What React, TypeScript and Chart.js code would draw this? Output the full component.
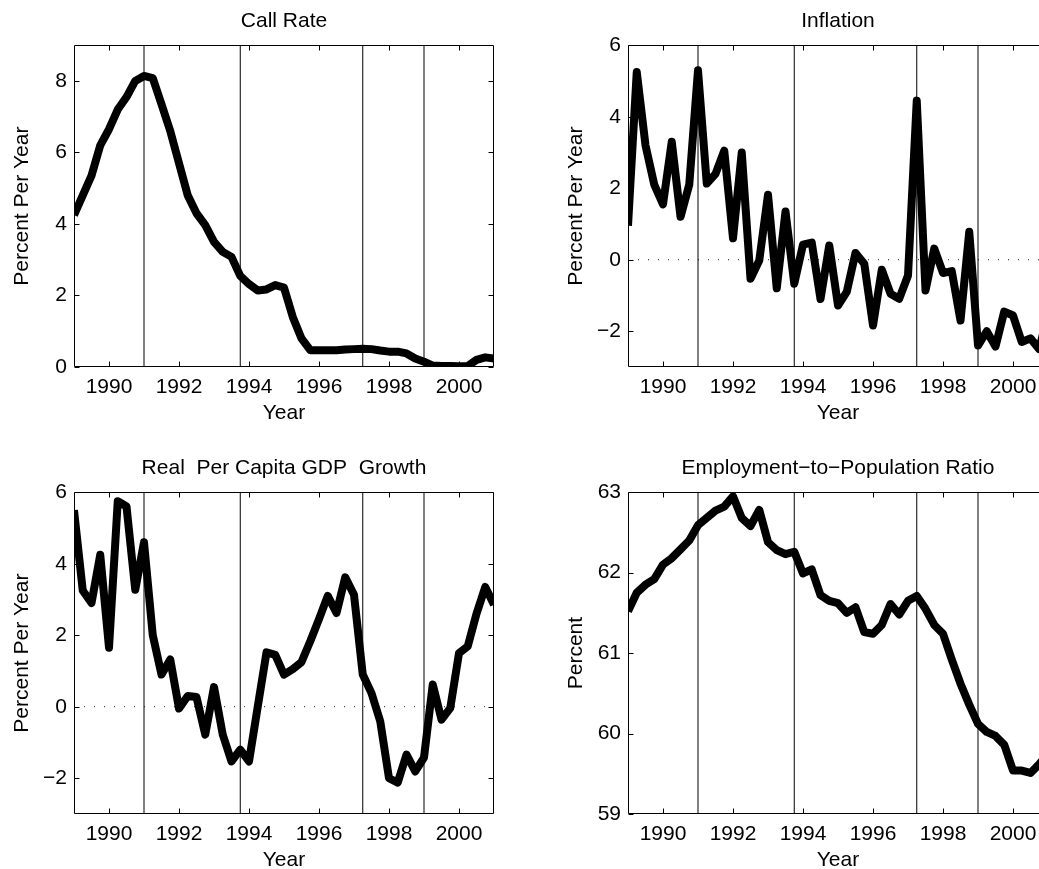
import React, { useEffect, useRef } from "react";
import { Chart, registerables } from "chart.js";

Chart.register(...registerables);

// ---- data ----
const QUARTERS = [
  1989, 1989.25, 1989.5, 1989.75, 1990, 1990.25, 1990.5, 1990.75,
  1991, 1991.25, 1991.5, 1991.75, 1992, 1992.25, 1992.5, 1992.75,
  1993, 1993.25, 1993.5, 1993.75, 1994, 1994.25, 1994.5, 1994.75,
  1995, 1995.25, 1995.5, 1995.75, 1996, 1996.25, 1996.5, 1996.75,
  1997, 1997.25, 1997.5, 1997.75, 1998, 1998.25, 1998.5, 1998.75,
  1999, 1999.25, 1999.5, 1999.75, 2000, 2000.25, 2000.5, 2000.75,
  2001,
];

const CALL_RATE = [
  4.25, 4.8, 5.35, 6.2, 6.65, 7.2, 7.55, 8.0,
  8.14, 8.08, 7.35, 6.6, 5.7, 4.8, 4.3, 3.97,
  3.5, 3.22, 3.08, 2.55, 2.32, 2.14, 2.17, 2.29,
  2.22, 1.4, 0.8, 0.47, 0.47, 0.47, 0.47, 0.49,
  0.5, 0.51, 0.5, 0.46, 0.43, 0.43, 0.38, 0.24,
  0.15, 0.04, 0.03, 0.03, 0.02, 0.03, 0.2, 0.27,
  0.24,
];

const INFLATION = [
  0.95, 5.25, 3.2, 2.1, 1.55, 3.3, 1.2, 2.1,
  5.3, 2.13, 2.4, 3.05, 0.6, 3.0, -0.53, -0.02,
  1.82, -0.8, 1.35, -0.67, 0.42, 0.48, -1.1, 0.4,
  -1.28, -0.9, 0.19, -0.11, -1.84, -0.28, -0.95, -1.09,
  -0.44, 4.45, -0.86, 0.31, -0.37, -0.32, -1.7, 0.78,
  -2.4, -2.0, -2.43, -1.45, -1.56, -2.3, -2.2, -2.5,
  -1.5,
];

const GDP_GROWTH = [
  5.5, 3.25, 2.9, 4.25, 1.65, 5.75, 5.6, 3.27,
  4.6, 2.0, 0.9, 1.32, -0.05, 0.3, 0.27, -0.78,
  0.55, -0.78, -1.53, -1.2, -1.53, 0.0, 1.52, 1.45,
  0.9, 1.05, 1.25, 1.83, 2.45, 3.1, 2.62, 3.62,
  3.13, 0.9, 0.38, -0.41, -2.0, -2.12, -1.34, -1.81,
  -1.42, 0.62, -0.36, -0.04, 1.5, 1.69, 2.6, 3.35,
  2.85,
];

const EMPLOYMENT = [
  61.52, 61.75, 61.85, 61.92, 62.1, 62.18, 62.29, 62.4,
  62.59, 62.68, 62.77, 62.82, 62.95, 62.68, 62.58, 62.78,
  62.38, 62.28, 62.23, 62.26, 61.99, 62.04, 61.72, 61.65,
  61.62, 61.5, 61.57, 61.26, 61.24, 61.35, 61.61, 61.48,
  61.65, 61.71, 61.55, 61.35, 61.24, 60.92, 60.62, 60.36,
  60.12, 60.02, 59.97, 59.86, 59.54, 59.54, 59.51, 59.62,
  59.75,
];

const EVENT_DATES = [1991, 1993.75, 1997.25, 1999];
const X_TICKS = [1990, 1992, 1994, 1996, 1998, 2000];
const X_MIN = 1989;
const X_MAX = 2001;

const CALL_TICKS = [0, 2, 4, 6, 8];
const PCT_TICKS = [-2, 0, 2, 4, 6];
const EMP_TICKS = [59, 60, 61, 62, 63];

const FONT = "'Liberation Sans', Arial, Helvetica, sans-serif";

type PanelDef = {
  key: string;
  title: string;
  yTitle: string;
  values: number[];
  yMin: number;
  yMax: number;
  yTicks: number[];
  zeroLine: boolean;
  left: number;
  top: number;
};

const PANELS: PanelDef[] = [
  { key: "call", title: "Call Rate", yTitle: "Percent Per Year", values: CALL_RATE, yMin: 0, yMax: 9, yTicks: CALL_TICKS, zeroLine: false, left: 0, top: 0 },
  { key: "infl", title: "Inflation", yTitle: "Percent Per Year", values: INFLATION, yMin: -3, yMax: 6, yTicks: PCT_TICKS, zeroLine: true, left: 554, top: 0 },
  { key: "gdp", title: "Real  Per Capita GDP  Growth", yTitle: "Percent Per Year", values: GDP_GROWTH, yMin: -3, yMax: 6, yTicks: PCT_TICKS, zeroLine: true, left: 0, top: 447 },
  { key: "emp", title: "Employment\u2212to\u2212Population Ratio", yTitle: "Percent", values: EMPLOYMENT, yMin: 59, yMax: 63, yTicks: EMP_TICKS, zeroLine: false, left: 554, top: 447 },
];

const CANVAS_W = 520;
const CANVAS_H = 434;

const framePlugin = {
  id: "matlabFrame",
  afterDatasetsDraw(chart: any) {
    const { ctx, chartArea: a, scales } = chart;
    const xs = scales.x;
    const ys = scales.y;
    const L = Math.round(a.left) + 0.5;
    const R = Math.round(a.right) - 0.5;
    const T = Math.round(a.top) + 0.5;
    const B = Math.round(a.bottom) - 0.5;
    const tl = 5;
    ctx.save();
    ctx.strokeStyle = "#000";
    ctx.lineWidth = 1;
    ctx.beginPath();
    ctx.rect(L, T, R - L, B - T);
    xs.ticks.forEach((t: any) => {
      const px = Math.round(xs.getPixelForValue(t.value)) + 0.5;
      ctx.moveTo(px, B);
      ctx.lineTo(px, B - tl);
      ctx.moveTo(px, T);
      ctx.lineTo(px, T + tl);
    });
    ys.ticks.forEach((t: any) => {
      const py = Math.round(ys.getPixelForValue(t.value)) + 0.5;
      ctx.moveTo(L, py);
      ctx.lineTo(L + tl, py);
      ctx.moveTo(R, py);
      ctx.lineTo(R - tl, py);
    });
    ctx.stroke();
    ctx.restore();
  },
};

function fmtTick(v: number): string {
  return v < 0 ? "\u2212" + Math.abs(v) : String(v);
}

function Panel({ p }: { p: PanelDef }) {
  const ref = useRef<HTMLCanvasElement | null>(null);
  useEffect(() => {
    if (!ref.current) return;
    const datasets: any[] = [
      {
        data: QUARTERS.map((x, i) => ({ x, y: p.values[i] })),
        borderColor: "#000",
        borderWidth: 8,
        pointRadius: 0,
        tension: 0,
        borderJoinStyle: "round",
        borderCapStyle: "butt",
        clip: 0,
      },
    ];
    EVENT_DATES.forEach((d) => {
      datasets.push({
        data: [
          { x: d, y: p.yMin },
          { x: d, y: p.yMax },
        ],
        borderColor: "#000",
        borderWidth: 1,
        pointRadius: 0,
        clip: 0,
      });
    });
    if (p.zeroLine) {
      datasets.push({
        data: [
          { x: X_MIN, y: 0 },
          { x: X_MAX, y: 0 },
        ],
        borderColor: "#222",
        borderWidth: 1,
        borderDash: [1, 9],
        pointRadius: 0,
        clip: 0,
      });
    }
    const font = { family: FONT, size: 21, weight: "normal" as const };
    const chart = new Chart(ref.current, {
      type: "line",
      data: { datasets },
      plugins: [framePlugin],
      options: {
        responsive: false,
        animation: false,
        events: [],
        layout: { padding: { left: 0, right: 26, top: 0, bottom: 0 } },
        plugins: {
          legend: { display: false },
          tooltip: { enabled: false },
          title: {
            display: true,
            text: p.title,
            fullSize: false,
            color: "#000",
            font,
            padding: { top: 9, bottom: 11 },
          },
        },
        scales: {
          x: {
            type: "linear",
            min: X_MIN,
            max: X_MAX,
            bounds: "data",
            grid: { display: false, drawTicks: false },
            border: { display: false },
            ticks: {
              color: "#000",
              font,
              padding: 8,
              autoSkip: false,
              maxRotation: 0,
              callback: (v: any) => String(v),
            },
            afterBuildTicks: (s: any) => {
              s.ticks = X_TICKS.map((v) => ({ value: v }));
            },
            afterFit: (s: any) => {
              s.height = 67;
            },
            title: {
              display: true,
              text: "Year",
              color: "#000",
              font,
              padding: { top: 0, bottom: 8 },
            },
          },
          y: {
            type: "linear",
            min: p.yMin,
            max: p.yMax,
            bounds: "data",
            grid: { display: false, drawTicks: false },
            border: { display: false },
            ticks: {
              color: "#000",
              font,
              padding: 7,
              autoSkip: false,
              callback: (v: any) => fmtTick(Number(v)),
            },
            afterBuildTicks: (s: any) => {
              s.ticks = p.yTicks.map((v) => ({ value: v }));
            },
            afterFit: (s: any) => {
              s.width = 74;
            },
            title: {
              display: true,
              text: p.yTitle,
              color: "#000",
              font,
              padding: { top: 10, bottom: 0 },
            },
          },
        },
      } as any,
    });
    return () => chart.destroy();
  }, [p]);
  return (
    <canvas
      ref={ref}
      width={CANVAS_W}
      height={CANVAS_H}
      style={{ position: "absolute", left: p.left, top: p.top, width: CANVAS_W, height: CANVAS_H }}
    />
  );
}

export default function App() {
  return (
    <div
      style={{
        position: "absolute",
        left: 0,
        top: 0,
        width: 1039,
        height: 869,
        overflow: "hidden",
        background: "#fff",
      }}
    >
      {PANELS.map((p) => (
        <Panel key={p.key} p={p} />
      ))}
    </div>
  );
}
